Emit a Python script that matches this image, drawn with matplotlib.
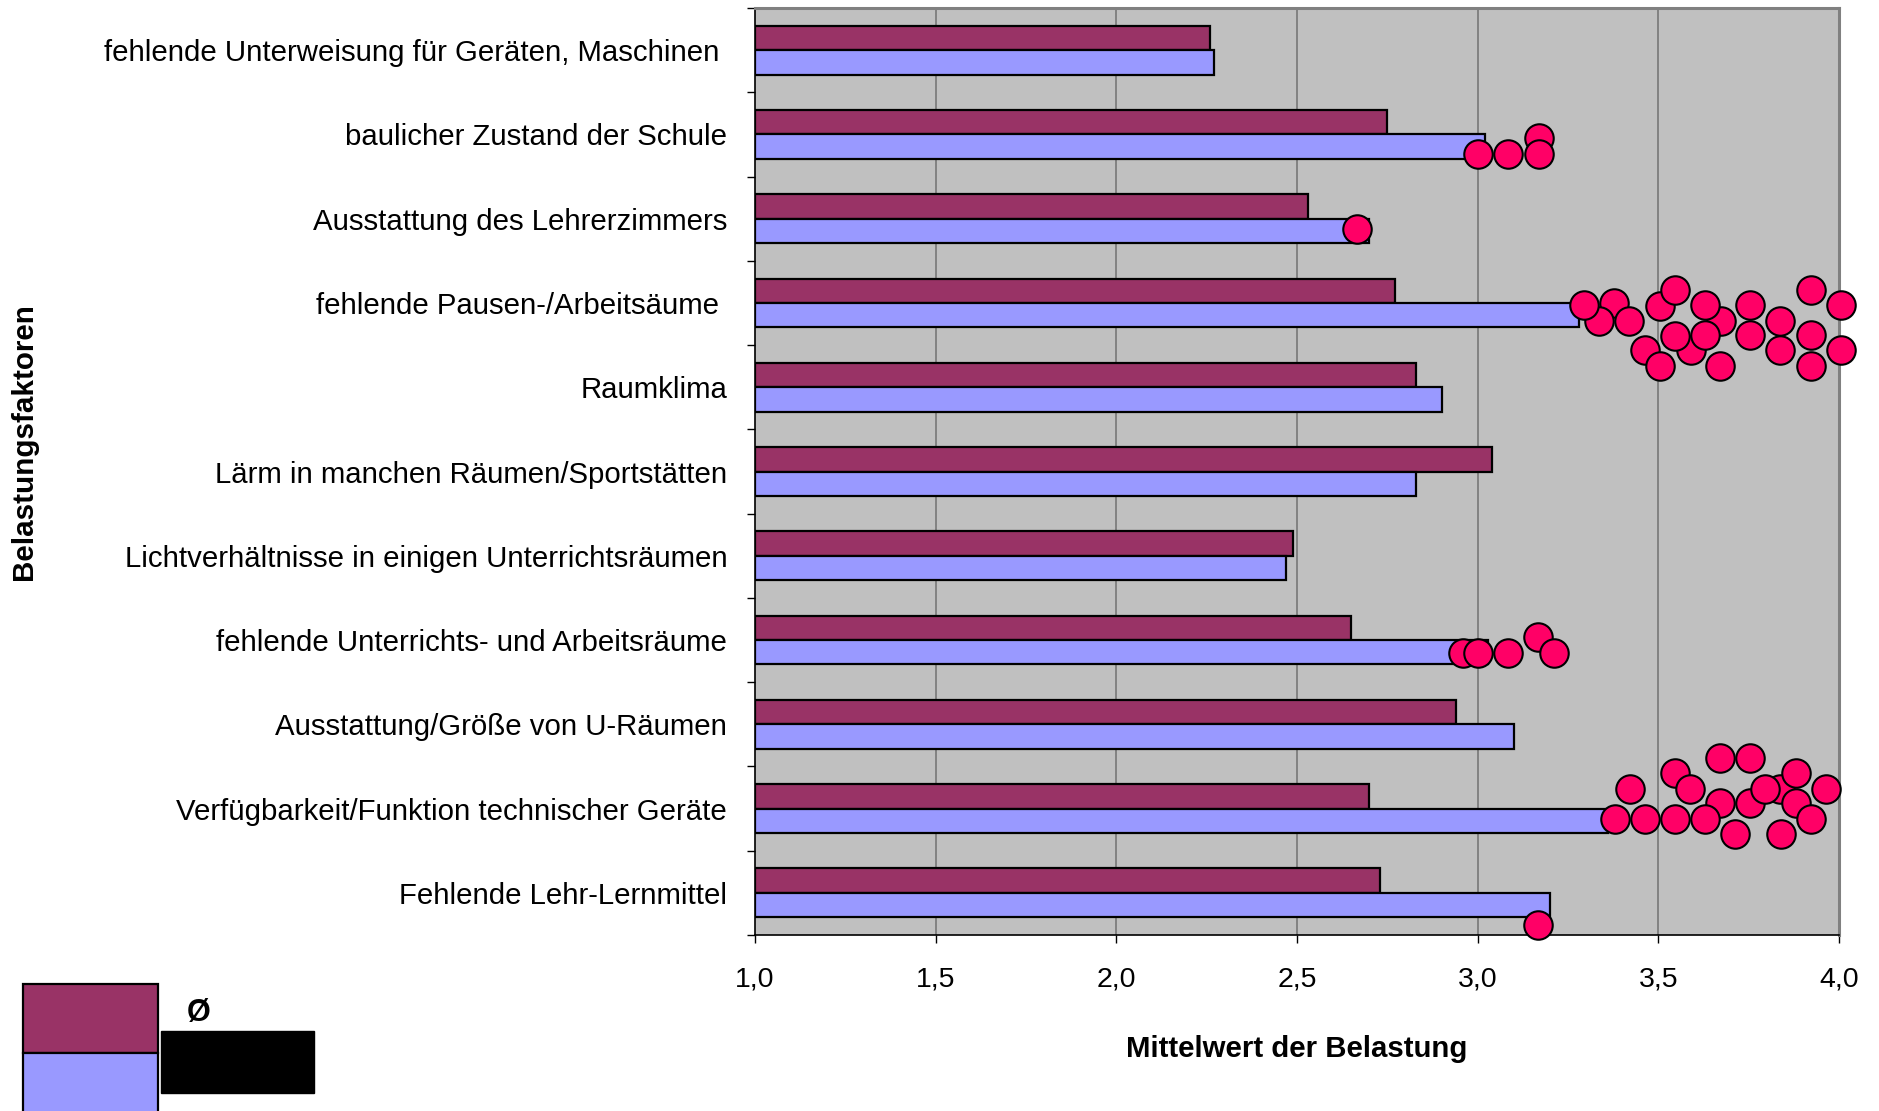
import matplotlib
matplotlib.use("Agg")
import matplotlib.pyplot as plt
import numpy as np
from matplotlib.patches import Rectangle
from matplotlib.ticker import FuncFormatter, FixedLocator

plt.rcParams['font.family'] = ['Liberation Sans', 'DejaVu Sans']

# ---------------- data ----------------
categories = [
    "fehlende Unterweisung für Geräten, Maschinen ",
    "baulicher Zustand der Schule",
    "Ausstattung des Lehrerzimmers",
    "fehlende Pausen-/Arbeitsäume ",
    "Raumklima",
    "Lärm in manchen Räumen/Sportstätten",
    "Lichtverhältnisse in einigen Unterrichtsräumen",
    "fehlende Unterrichts- und Arbeitsräume",
    "Ausstattung/Größe von U-Räumen",
    "Verfügbarkeit/Funktion technischer Geräte",
    "Fehlende Lehr-Lernmittel",
]
mean_dark = [2.26, 2.75, 2.53, 2.77, 2.83, 3.04, 2.49, 2.65, 2.94, 2.70, 2.73]
mean_light = [2.27, 3.02, 2.70, 3.28, 2.90, 2.83, 2.47, 3.03, 3.10, 3.36, 3.20]

x_ticks = [1.0, 1.5, 2.0, 2.5, 3.0, 3.5, 4.0]

# individual values (x) and vertical jitter (offset within the category row)
dots_c1_x = [3.17, 3.00, 3.085, 3.17]
dots_c1_dy = [0.046, 0.235, 0.235, 0.235]

dots_c2_x = [2.667]
dots_c2_dy = [0.125]

dots_c3_x = [3.378, 3.673, 3.590, 3.504, 3.336, 3.295, 3.419, 3.546, 3.629,
             3.546, 3.629, 3.463, 3.504, 3.671, 3.754, 3.754, 3.837, 3.837,
             3.922, 3.922, 3.922, 4.006, 4.006]
dots_c3_dy = [0.003, 0.209, 0.557, 0.031, 0.209, 0.023, 0.209, -0.155, 0.023,
              0.387, 0.379, 0.557, 0.747, 0.747, 0.023, 0.379, 0.209, 0.557,
              -0.155, 0.379, 0.747, 0.023, 0.557]

dots_c7_x = [2.96, 3.00, 3.085, 3.167, 3.21]
dots_c7_dy = [0.150, 0.150, 0.150, -0.035, 0.150]

dots_c9_x = [3.837, 3.671, 3.546, 3.380, 3.421, 3.463, 3.546, 3.587, 3.629,
             3.671, 3.754, 3.754, 3.713, 3.796, 3.881, 3.881, 3.839, 3.922,
             3.964]
dots_c9_dy = [-0.232, -0.066, -0.422, 0.124, -0.232, 0.124, 0.124, -0.232,
              0.124, -0.600, -0.600, -0.066, 0.302, -0.232, -0.422, -0.066,
              0.302, 0.124, -0.232]

dots_c10_x = [3.168]
dots_c10_dy = [0.378]

dot_groups = {1: (dots_c1_x, dots_c1_dy), 2: (dots_c2_x, dots_c2_dy),
              3: (dots_c3_x, dots_c3_dy), 7: (dots_c7_x, dots_c7_dy),
              9: (dots_c9_x, dots_c9_dy), 10: (dots_c10_x, dots_c10_dy)}

# ---------------- styling ----------------
c_dark = "#993366"
c_light = "#9999FF"
c_dot = "#FF0066"
bar_h = 0.29

fig = plt.figure(figsize=(18.79, 11.11), dpi=100)
ax = fig.add_axes([0.4018, 0.1584, 0.5769, 0.8344])
ax.set_facecolor("#C0C0C0")
ax.set_xlim(1, 4)
ax.set_ylim(len(categories) - 0.5, -0.5)

idx = np.arange(len(categories))
ax.barh(idx - bar_h / 2, np.array(mean_dark) - 1, left=1, height=bar_h,
        color=c_dark, edgecolor="black", linewidth=1.6, zorder=2)
ax.barh(idx + bar_h / 2, np.array(mean_light) - 1, left=1, height=bar_h,
        color=c_light, edgecolor="black", linewidth=1.6, zorder=2)

for ci, (xs, dys) in dot_groups.items():
    ys = ci + np.array(dys)
    ax.scatter(xs, ys, s=420, color=c_dot, edgecolor="black", linewidths=1.5,
               zorder=4, clip_on=False)

# grid
for gx in x_ticks[1:-1]:
    ax.axvline(gx, color="#777777", lw=1.2, zorder=1)

# ticks
ax.set_xticks(x_ticks)
ax.xaxis.set_major_formatter(FuncFormatter(lambda v, p: f"{v:.1f}".replace(".", ",")))
ax.tick_params(axis="x", direction="out", length=6, width=1, pad=17, labelsize=20.5)

ax.set_yticks(idx)
ax.set_yticklabels(categories)
ax.yaxis.set_minor_locator(FixedLocator(np.arange(-0.5, len(categories), 1.0)))
ax.tick_params(axis="y", which="major", length=0, pad=20, labelsize=21.2)
ax.tick_params(axis="y", which="minor", direction="out", length=6, width=1)

for side in ("left", "bottom"):
    ax.spines[side].set_color("black")
    ax.spines[side].set_linewidth(1.2)
for side in ("top", "right"):
    ax.spines[side].set_color("#808080")
    ax.spines[side].set_linewidth(2.2)

ax.set_xlabel("Mittelwert der Belastung", fontsize=21.2, fontweight="bold")
ax.xaxis.set_label_coords(0.5, -0.108)
ylab = ax.set_ylabel("Belastungsfaktoren", fontsize=21.3, fontweight="bold", va="center")
ax.yaxis.set_label_coords(-0.674, 0.532)

# legend remnants (bottom-left)
W, H = 1879.0, 1111.0
fig.add_artist(Rectangle((23 / W, 1 - 1053 / H), 135 / W, 69 / H, transform=fig.transFigure,
                         facecolor=c_dark, edgecolor="black", lw=1.6, clip_on=False))
fig.add_artist(Rectangle((23 / W, -0.02), 135 / W, 0.02 + 1 - 1053 / H, transform=fig.transFigure,
                         facecolor=c_light, edgecolor="black", lw=1.6, clip_on=False))
fig.add_artist(Rectangle((161 / W, 1 - 1093 / H), 153 / W, 62 / H, transform=fig.transFigure,
                         facecolor="black", edgecolor="black", lw=1, clip_on=False))
fig.text(199 / W, 1 - 1013 / H, "Ø", fontsize=22, fontweight="bold", ha="center", va="center")

fig.savefig("out.png", dpi=100)
